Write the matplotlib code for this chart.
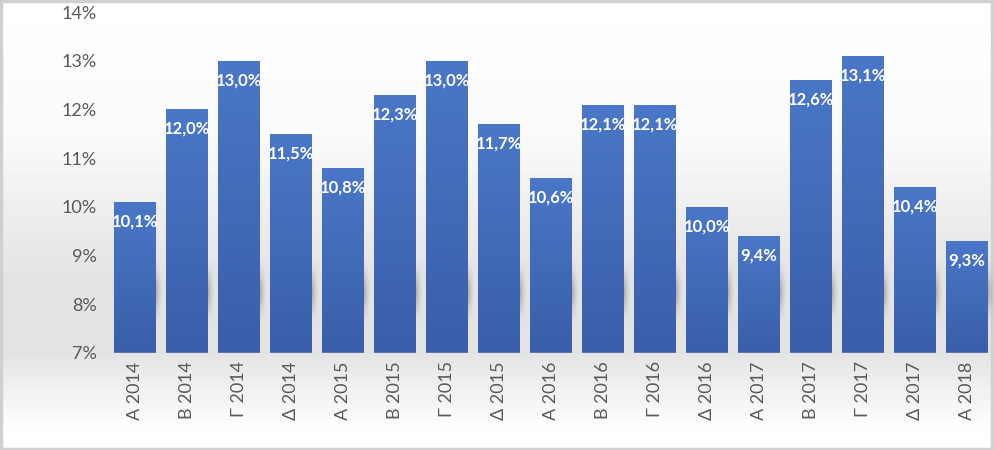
import numpy as np
import matplotlib
matplotlib.use("Agg")
import matplotlib.pyplot as plt
from matplotlib.patches import Rectangle
from matplotlib.colors import LinearSegmentedColormap

categories = ["Α 2014", "Β 2014", "Γ 2014", "Δ 2014",
              "Α 2015", "Β 2015", "Γ 2015", "Δ 2015",
              "Α 2016", "Β 2016", "Γ 2016", "Δ 2016",
              "Α 2017", "Β 2017", "Γ 2017", "Δ 2017",
              "Α 2018"]
values = [10.1, 12.0, 13.0, 11.5, 10.8, 12.3, 13.0, 11.7, 10.6,
          12.1, 12.1, 10.0, 9.4, 12.6, 13.1, 10.4, 9.3]
yticks = [7, 8, 9, 10, 11, 12, 13, 14]

plt.rcParams['font.family'] = ['Lato', 'DejaVu Sans']

fig = plt.figure(figsize=(9.94, 4.5), dpi=100)

# figure background gradient: white -> light gray -> white
bg = fig.add_axes([0, 0, 1, 1], zorder=0)
bg.axis('off')
ys = np.linspace(0, 1, 450)
shade = np.interp(ys, [0, 0.3, 0.62, 0.78, 0.96, 1.0],
                  [1.0, 0.98, 0.89, 0.89, 1.0, 1.0])
img = np.repeat(shade[:, None], 10, axis=1)
bg.imshow(img, cmap='gray', vmin=0, vmax=1, aspect='auto',
          extent=[0, 1, 1, 0])
bg.set_xlim(0, 1)
bg.set_ylim(1, 0)
bg.add_patch(Rectangle((0.001, 0.002), 0.997, 0.995, fill=False,
                       ec='#d0d0d0', lw=2.5, transform=bg.transAxes))

ax = fig.add_axes([0.1097, 0.2156, 0.8893, 0.7577], zorder=1)
ax.patch.set_alpha(0)
x = np.arange(len(categories))
width = 0.8

bar_cmap = LinearSegmentedColormap.from_list('b', ['#4a77c8', '#3a5ea9'])
grad = np.linspace(0, 1, 200)[:, None]

bars = ax.bar(x, [v - 7 for v in values], width, bottom=7,
              color='#4170c0', zorder=3)
for b, v in zip(bars, values):
    # soft shadow in the gap right of each bar
    sx = np.linspace(1, 0, 40)
    sy = np.exp(-((np.linspace(-1, 1, 60)) ** 2) * 3)
    sh = np.outer(sy, sx ** 1.5)
    rgba = np.zeros((60, 40, 4))
    rgba[..., :3] = 0.45
    rgba[..., 3] = sh * 0.5
    x0 = b.get_x() + width
    ax.imshow(rgba, extent=[x0, x0 + 0.12, 7.6, 8.9], aspect='auto',
              zorder=2, interpolation='bilinear')
    im = ax.imshow(grad, cmap=bar_cmap, aspect='auto', zorder=4,
                   extent=[b.get_x(), b.get_x() + width, 7, v])
    im.set_clip_path(b)
    ax.text(b.get_x() + width / 2, v - 0.4, f"{v:.1f}%".replace('.', ','),
            ha='center', va='center', color='white', fontsize=12,
            fontweight='bold', zorder=5)

ax.set_xlim(-0.5, len(categories) - 0.5)
ax.set_ylim(7, 14)
ax.set_yticks(yticks)
ax.set_yticklabels([f"{t}%" for t in yticks], fontsize=13, color='#595959')
ax.set_xticks(x)
ax.set_xticklabels(categories, rotation=90, fontsize=13, color='#595959')
ax.tick_params(length=0, pad=9, axis='y')
ax.tick_params(length=0, pad=6, axis='x')
for s in ax.spines.values():
    s.set_visible(False)
ax.axhline(7, color='#d9d9d9', lw=1, zorder=6)

fig.savefig("out.png", dpi=100)
